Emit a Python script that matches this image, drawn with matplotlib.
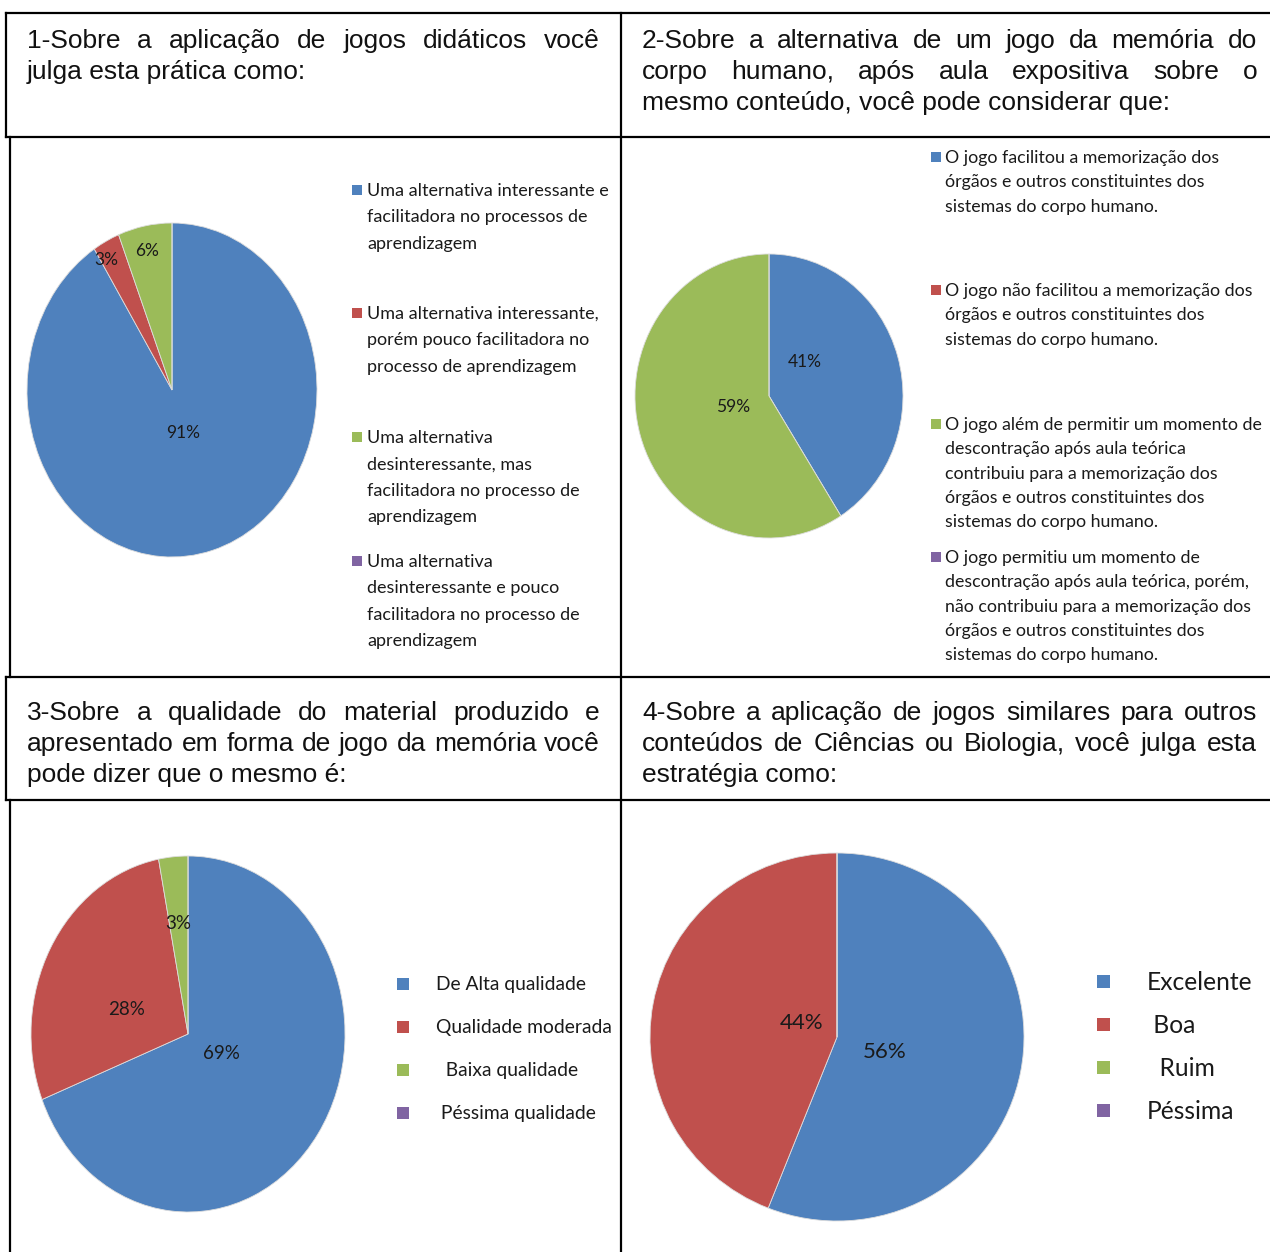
import matplotlib
matplotlib.use("Agg")
import matplotlib.pyplot as plt
from matplotlib.lines import Line2D
from matplotlib.patches import Rectangle

W, H = 1270, 1252

colors = ['#4F81BD', '#C0504D', '#9BBB59', '#8064A2']

# chart 1
q1_title = ["1-Sobre a aplicação de jogos didáticos você", "julga esta prática como:"]
q1_values = [91, 3, 6, 0]
q1_labels = ["Uma alternativa interessante e\nfacilitadora no processos de\naprendizagem",
             "Uma alternativa interessante,\nporém pouco facilitadora no\nprocesso de aprendizagem",
             "Uma alternativa\ndesinteressante, mas\nfacilitadora no processo de\naprendizagem",
             "Uma alternativa\ndesinteressante e pouco\nfacilitadora no processo de\naprendizagem"]

# chart 2
q2_title = ["2-Sobre a alternativa de um jogo da memória do",
            "corpo humano, após aula expositiva sobre o",
            "mesmo conteúdo, você pode considerar que:"]
q2_values = [41, 0, 59, 0]
q2_labels = ["O jogo facilitou a memorização dos\nórgãos e outros constituintes dos\nsistemas do corpo humano.",
             "O jogo não facilitou a memorização dos\nórgãos e outros constituintes dos\nsistemas do corpo humano.",
             "O jogo além de permitir um momento de\ndescontração após aula teórica\ncontribuiu para a memorização dos\nórgãos e outros constituintes dos\nsistemas do corpo humano.",
             "O jogo permitiu um momento de\ndescontração após aula teórica, porém,\nnão contribuiu para a memorização dos\nórgãos e outros constituintes dos\nsistemas do corpo humano."]

# chart 3
q3_title = ["3-Sobre a qualidade do material produzido e",
            "apresentado em forma de jogo da memória você",
            "pode dizer que o mesmo é:"]
q3_values = [69, 28, 3, 0]
q3_labels = ["De Alta qualidade", "Qualidade moderada", "  Baixa qualidade", " Péssima qualidade"]

# chart 4
q4_title = ["4-Sobre a aplicação de jogos similares para outros",
            "conteúdos de Ciências ou Biologia, você julga esta",
            "estratégia como:"]
q4_values = [56, 44, 0, 0]
q4_labels = ["Excelente", " Boa", "  Ruim", "Péssima"]


def fx(px):
    return px / W


def fy(py):
    return 1 - py / H


fig = plt.figure(figsize=(12.7, 12.52), dpi=100)
renderer = fig.canvas.get_renderer()

HEAD_FONT = dict(family=['Liberation Sans', 'DejaVu Sans'], fontsize=19, color='#111111')
LEG_FONT = ['Lato', 'DejaVu Sans']


def justified(lines, x0, x1, y0, step):
    for i, line in enumerate(lines):
        y = y0 + i * step
        words = line.split()
        if i == len(lines) - 1 or len(words) == 1:
            fig.text(fx(x0), fy(y), line, va='center', ha='left', **HEAD_FONT)
            continue
        texts = [fig.text(0, fy(y), w, va='center', ha='left', **HEAD_FONT) for w in words]
        widths = [t.get_window_extent(renderer).width for t in texts]
        gap = (x1 - x0 - sum(widths)) / (len(words) - 1)
        x = x0
        for t, wd in zip(texts, widths):
            t.set_x(fx(x))
            x += wd + gap


def pie(values, box, label_pos, fs):
    cx, cy, rx, ry = box
    ax = fig.add_axes([fx(cx - rx), fy(cy + ry), 2 * rx / W, 2 * ry / H])
    ax.pie(values, colors=colors, startangle=90, counterclock=False,
           wedgeprops=dict(linewidth=0.6, edgecolor='#dddddd'))
    ax.set_aspect('auto')
    ax.set_xlim(-1, 1)
    ax.set_ylim(-1, 1)
    ax.axis('off')
    for v, (lx, ly) in zip(values, label_pos):
        if v > 0:
            ax.text(lx, ly, f"{v}%", ha='center', va='center', fontsize=fs,
                    family=LEG_FONT, color='#1a1a1a')
    return ax


def legend(labels, x_sq, x_txt, tops, sq, fs, spacing, off):
    for c, lab, y in zip(colors, labels, tops):
        fig.add_artist(Rectangle((fx(x_sq), fy(y + off + sq / 2)), sq / W, sq / H,
                                 transform=fig.transFigure, color=c, lw=0))
        fig.text(fx(x_txt), fy(y), lab, va='top', ha='left', fontsize=fs,
                 family=LEG_FONT, color='#1a1a1a', linespacing=spacing)


# table grid
def hline(y, x0=6, x1=1270):
    fig.add_artist(Line2D([fx(x0), fx(x1)], [fy(y), fy(y)], color='black', lw=1.6))


def vline(x, y0, y1):
    fig.add_artist(Line2D([fx(x), fx(x)], [fy(y0), fy(y1)], color='black', lw=1.6))


hline(13)
hline(137)
hline(677)
hline(800)
vline(6, 13, 137)
vline(10, 137, 677)
vline(6, 677, 800)
vline(10, 800, 1252)
vline(621, 13, 1252)

# headers
justified(q1_title, 27, 600, 41, 31)
justified(q2_title, 642, 1257, 41, 31)
justified(q3_title, 27, 600, 713, 31)
justified(q4_title, 642, 1257, 713, 31)

# pies
pie(q1_values, (172, 390, 145, 167), [(0.076, -0.26), (-0.45, 0.78), (-0.17, 0.83), (0, 0)], 12.5)
pie(q2_values, (769, 396, 134, 142), [(0.27, 0.24), (0, 0), (-0.27, -0.08), (0, 0)], 12.5)
pie(q3_values, (188, 1034, 157, 178), [(0.21, -0.11), (-0.39, 0.135), (-0.064, 0.62), (0, 0)], 13.5)
pie(q4_values, (837, 1037, 187, 184), [(0.255, -0.08), (-0.19, 0.075), (0, 0), (0, 0)], 16)

# legends
legend(q1_labels, 352, 367, [183, 306, 430, 554], 10, 13, 1.79, 7)
legend(q2_labels, 931, 945, [150, 283, 417, 550], 10, 12.8, 1.64, 7)
legend(q3_labels, 397, 436, [976, 1019, 1062, 1105], 12, 13.9, 1.2, 8)
legend(q4_labels, 1097, 1147, [971, 1014, 1057, 1100], 13, 17.7, 1.2, 10)

fig.savefig("out.png", dpi=100)
